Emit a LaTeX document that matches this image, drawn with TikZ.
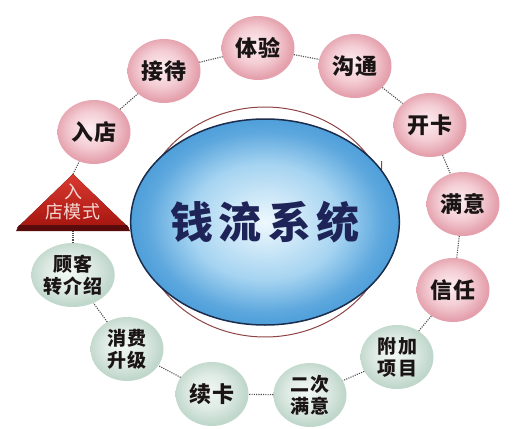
\documentclass[tikz,border=0pt]{standalone}
\usepackage{fontspec}
\newfontfamily\cjk{Noto Sans CJK SC}
\usetikzlibrary{shapes.geometric,arrows.meta}
\definecolor{pinkin}{HTML}{FCEEF1}
\definecolor{pinkmid}{HTML}{F4CDD4}
\definecolor{pinkout}{HTML}{E4A0AC}
\definecolor{greenin}{HTML}{F3F8F5}
\definecolor{greenmid}{HTML}{DDEAE3}
\definecolor{greenout}{HTML}{C0D7CB}
\definecolor{txt}{HTML}{1A1414}
\definecolor{linkgray}{HTML}{4A4A4A}
\definecolor{arcred}{HTML}{8E4444}
\definecolor{bluein}{HTML}{EEF8FD}
\definecolor{bluemid}{HTML}{A6D4F1}
\definecolor{blueout}{HTML}{4F9FDA}
\definecolor{blueedge}{HTML}{1B2D4D}
\definecolor{navy}{HTML}{1F2458}
\definecolor{tritop}{HTML}{DA3A30}
\definecolor{tribot}{HTML}{A5150F}
\definecolor{triband}{HTML}{5A0B0B}
\definecolor{tritext}{HTML}{F6D8D3}
\pgfdeclareradialshading{bluesh}{\pgfpoint{0bp}{0bp}}{color(0bp)=(bluein); color(14bp)=(bluemid); color(22bp)=(blueout!85!bluemid); color(25bp)=(blueout); color(50bp)=(blueout)}
\pgfdeclareradialshading{pinksh}{\pgfpoint{-3bp}{3bp}}{color(0bp)=(pinkin); color(14bp)=(pinkmid); color(25bp)=(pinkout); color(50bp)=(pinkout)}
\pgfdeclareradialshading{greensh}{\pgfpoint{-3bp}{3bp}}{color(0bp)=(greenin); color(14bp)=(greenmid); color(25bp)=(greenout); color(50bp)=(greenout)}
\begin{document}
\begin{tikzpicture}[x=1pt,y=-1pt,
  ball/.style={ellipse, minimum width=73pt, minimum height=64pt, inner sep=0pt, text=txt, align=center},
  pinkball/.style={ball, shading=pinksh, font=\cjk\bfseries\fontsize{22}{24}\selectfont},
  greenball/.style={ball, shading=greensh, font=\cjk\bfseries\fontsize{19}{22}\selectfont},
  link/.style={draw=linkgray, line width=1.1pt, dash pattern=on 1.1pt off 1.2pt},
  flow/.style={draw=arcred, line width=1pt},
  tritxt/.style={text=tritext, font=\cjk\fontsize{18}{20}\selectfont, inner sep=0pt}]
\useasboundingbox (0,0) rectangle (524,428);
% outer flow arcs
\draw[flow, -{Straight Barb[left, length=16pt, width=14pt, line width=1pt]}] plot[domain=-166:-21, samples=80, variable=\t, smooth] ({265+126*cos(\t)}, {222+115*sin(\t)});
\draw[flow, -{Straight Barb[right, length=16pt, width=14pt, line width=1pt]}] plot[domain=17:162, samples=80, variable=\t, smooth] ({265+126*cos(\t)}, {222+115*sin(\t)});
% central circle
\node[ellipse, minimum width=230pt, minimum height=206pt, inner sep=0pt, shading=bluesh, draw=blueedge, line width=1.5pt, text=navy, font=\cjk\bfseries\fontsize{43}{43}\selectfont] (core) at (265,222) {钱\hspace{6pt}流\hspace{6pt}系\hspace{6pt}统};
% nodes
\node[pinkball] (ru) at (94,132) {入\hspace{2pt}店};
\node[pinkball] (jd) at (164,71) {接\hspace{2pt}待};
\node[pinkball] (ty) at (258,48) {体\hspace{2pt}验};
\node[pinkball] (gt) at (355,66) {沟\hspace{2pt}通};
\node[pinkball] (kk) at (430,125) {开\hspace{2pt}卡};
\node[pinkball] (my) at (463,204) {满\hspace{2pt}意};
\node[pinkball] (xr) at (453,290) {信\hspace{2pt}任};
\node[greenball] (fj) at (397,357) {附\hspace{2pt}加\\项\hspace{2pt}目};
\node[greenball] (ec) at (310,395) {二\hspace{2pt}次\\满\hspace{2pt}意};
\node[greenball, font=\cjk\bfseries\fontsize{22}{24}\selectfont] (xk) at (212,394) {续\hspace{2pt}卡};
\node[greenball] (xf) at (127,349) {消\hspace{2pt}费\\升\hspace{2pt}级};
\node[greenball] (gk) at (73,275) {顾\hspace{1pt}客\\转\hspace{1pt}介\hspace{1pt}绍};
% triangle
\fill[top color=tritop, bottom color=tribot] (73,174) -- (129,228) -- (17,228) -- cycle;
\fill[triband] (19,225) -- (127,225) -- (130,231) -- (16,231) -- cycle;
\coordinate (triTop) at (73,174);
\coordinate (triBot) at (73,231);
\node[tritxt] (tA) at (73,192) {入};
\node[tritxt] (tB) at (73,212) {店\hspace{1pt}模\hspace{1pt}式};
% links
\draw[link] (ru) -- (jd);
\draw[link] (jd) -- (ty);
\draw[link] (ty) -- (gt);
\draw[link] (gt) -- (kk);
\draw[link] (kk) -- (my);
\draw[link] (my) -- (xr);
\draw[link] (xr) -- (fj);
\draw[link] (fj) -- (ec);
\draw[link] (ec) -- (xk);
\draw[link] (xk) -- (xf);
\draw[link] (xf) -- (gk);
\draw[link] (gk) -- (triBot);
\draw[link] (triTop) -- (ru);
\end{tikzpicture}
\end{document}
